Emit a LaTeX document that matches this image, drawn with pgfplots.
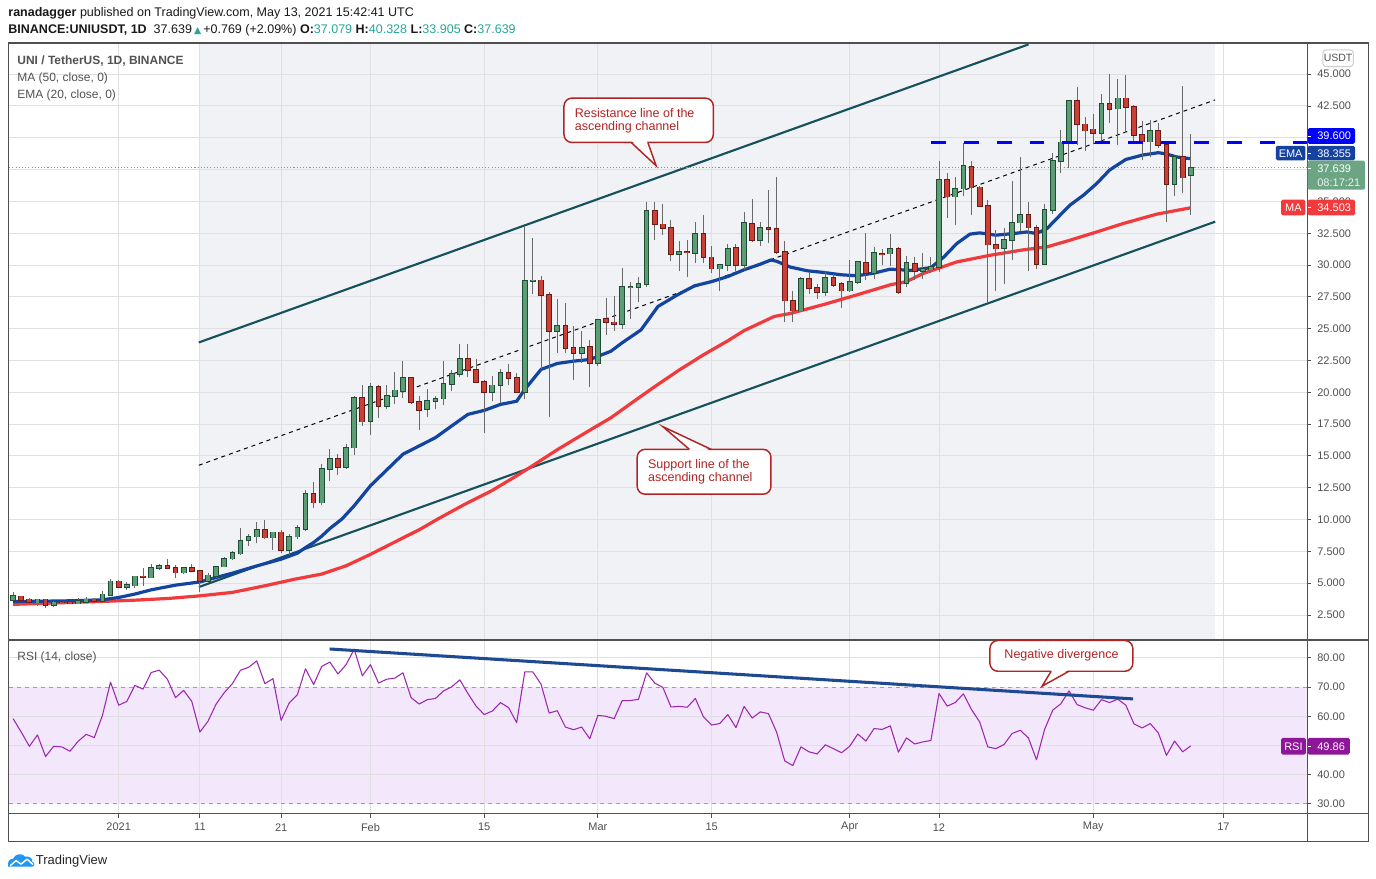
\documentclass[border=0pt]{standalone}
\usepackage{fontspec}
\setmainfont{Liberation Sans}
\newfontfamily\dejavu{DejaVu Sans}
\usepackage{pgfplots}
\usepackage{pgfplotstable}
\pgfplotsset{compat=1.18}

\definecolor{cgreen}{RGB}{92,157,118}
\definecolor{cgreenD}{RGB}{30,76,52}
\definecolor{cred}{RGB}{203,64,52}
\definecolor{credD}{RGB}{105,26,22}
\definecolor{wickc}{RGB}{105,105,105}
\definecolor{emac}{RGB}{18,68,160}
\definecolor{mac}{RGB}{242,57,60}
\definecolor{chan}{RGB}{22,82,92}
\definecolor{shadec}{RGB}{240,242,245}
\definecolor{gridc}{RGB}{224,224,227}
\definecolor{txt}{RGB}{80,80,80}
\definecolor{callc}{RGB}{178,36,36}
\definecolor{rsic}{RGB}{156,39,176}
\definecolor{bandc}{RGB}{243,231,252}
\definecolor{rsibox}{RGB}{142,22,153}
\definecolor{tealc}{RGB}{38,166,154}
\definecolor{divc}{RGB}{30,74,145}
\definecolor{pgreen}{RGB}{107,165,131}
\definecolor{blueb}{RGB}{0,0,255}
\definecolor{emabox}{RGB}{21,66,160}
\definecolor{framec}{RGB}{80,80,80}
\definecolor{tvblue}{RGB}{33,150,243}
\definecolor{bandline}{RGB}{165,155,175}
\definecolor{boxgray}{RGB}{205,205,205}

\newcommand\fs[1]{\fontsize{#1}{#1}\selectfont}

% day index: 0 = 1 Jan 2021
\pgfplotstableread{
d o h l c
-13 3.70 4.28 3.62 3.99
-12 3.96 4.02 3.65 3.70
-11 3.73 3.85 3.40 3.49
-10 3.47 3.80 3.23 3.73
-9 3.73 3.78 3.02 3.31
-8 3.31 3.58 3.17 3.49
-7 3.50 3.56 3.40 3.47
-6 3.49 3.52 3.36 3.39
-5 3.39 3.85 3.33 3.60
-4 3.54 3.95 3.48 3.73
-3 3.73 3.82 3.58 3.62
-2 3.62 4.38 3.55 4.12
-1 4.09 5.31 3.98 5.14
0 5.14 5.27 4.65 4.72
1 4.72 5.10 4.50 4.85
2 4.82 5.60 4.66 5.53
3 5.53 6.18 4.80 5.50
4 5.45 6.55 5.40 6.23
5 6.21 6.55 6.05 6.39
6 6.39 6.89 6.10 6.21
7 6.23 6.40 5.45 5.84
8 5.84 6.25 5.70 6.23
9 6.23 6.55 5.85 5.97
10 6.00 6.05 4.33 5.19
11 5.19 5.83 5.00 5.61
12 5.58 6.35 5.40 6.31
13 6.31 7.10 6.25 6.94
14 6.94 7.52 6.80 7.36
15 7.33 9.37 7.20 8.35
16 8.40 8.85 7.95 8.66
17 8.66 9.84 8.15 9.21
18 9.21 9.95 8.45 8.58
19 8.58 9.05 7.60 9.00
20 9.00 9.20 7.40 7.59
21 7.59 8.90 7.20 8.66
22 8.66 9.55 8.50 9.37
23 9.24 12.29 9.10 12.03
24 12.03 12.94 10.90 11.33
25 11.33 14.35 11.17 13.96
26 13.96 15.53 13.00 14.75
27 14.75 15.19 13.54 14.10
28 14.10 15.92 13.95 15.66
29 15.66 19.70 15.08 19.58
30 19.58 20.60 17.36 17.70
31 17.75 20.75 16.65 20.44
32 20.44 20.60 17.96 18.92
33 18.92 20.60 18.66 19.70
34 19.70 21.60 19.05 20.15
35 20.10 22.50 19.58 21.14
36 21.14 21.20 19.10 19.24
37 19.26 19.70 17.04 18.60
38 18.70 20.23 18.06 19.34
39 19.30 19.75 18.66 19.50
40 19.50 22.50 19.00 20.67
41 20.67 21.74 20.10 21.46
42 21.46 23.83 21.20 22.63
43 22.63 23.83 21.20 21.74
44 21.77 22.63 20.70 20.80
45 20.80 21.00 16.83 20.00
46 20.00 21.25 19.30 20.54
47 20.54 21.83 19.20 21.53
48 21.53 22.20 20.60 21.10
49 21.14 21.53 19.95 20.00
50 20.00 33.00 19.50 28.77
51 28.75 32.10 27.75 28.80
52 28.80 29.15 21.80 27.62
53 27.64 27.85 18.06 24.82
54 24.82 27.36 23.10 25.20
55 25.20 27.00 23.10 23.50
56 23.50 25.24 20.96 23.10
57 23.10 24.85 22.30 23.50
58 23.57 24.10 20.44 22.27
59 22.27 25.75 22.10 25.71
60 25.75 27.40 24.50 25.50
61 25.50 27.60 24.80 25.36
62 25.36 29.76 25.00 28.27
63 28.25 28.70 25.80 28.30
64 28.27 29.05 27.10 28.50
65 28.50 34.92 28.30 34.24
66 34.24 34.92 32.00 33.20
67 33.20 34.80 32.40 32.90
68 32.90 33.56 30.30 30.86
69 30.86 31.86 29.50 31.05
70 31.05 31.95 29.10 31.00
71 30.95 33.40 30.15 32.43
72 32.43 33.95 30.20 30.60
73 30.60 31.50 29.40 29.73
74 29.73 30.05 28.00 30.00
75 30.00 31.67 29.50 31.25
76 31.33 31.67 29.50 30.00
77 30.00 34.16 29.60 33.30
78 33.22 35.20 31.80 31.99
79 31.99 33.35 31.50 32.90
80 32.90 35.90 31.70 32.82
81 32.82 36.90 30.90 30.99
82 31.04 31.90 25.50 27.20
83 27.20 28.00 25.50 26.43
84 26.43 29.05 26.40 28.92
85 28.92 29.45 27.74 28.19
86 28.19 28.50 27.30 27.87
87 27.87 29.50 27.60 28.97
88 28.97 29.30 28.30 28.45
89 28.50 28.65 26.60 28.00
90 28.00 30.40 27.90 28.66
91 28.66 30.35 28.55 30.26
92 30.15 32.50 28.84 29.34
93 29.34 31.40 28.90 30.94
94 30.90 31.30 30.00 30.85
95 30.90 32.46 29.95 31.25
96 31.25 31.40 27.74 27.85
97 28.58 30.70 28.30 30.20
98 30.12 30.64 28.80 29.50
99 29.50 30.96 28.90 29.72
100 29.64 30.64 29.40 29.85
101 29.85 38.18 29.46 36.68
102 36.68 37.20 33.70 35.37
103 35.37 36.94 33.13 36.00
104 36.00 39.60 35.40 37.78
105 37.70 38.20 33.92 36.08
106 36.10 36.20 34.60 34.63
107 34.68 35.10 27.10 31.61
108 31.61 32.74 28.00 31.30
109 31.35 32.95 28.50 31.95
110 31.95 36.60 30.40 33.34
111 33.34 38.50 32.70 33.92
112 33.92 34.97 29.50 32.95
113 32.95 33.15 29.70 30.10
114 30.10 34.83 30.05 34.32
115 34.32 38.80 34.05 38.18
116 38.18 40.60 37.25 39.64
117 39.64 42.98 37.60 42.90
118 42.90 44.03 39.40 41.06
119 41.06 41.60 39.00 40.56
120 40.67 41.90 39.50 40.35
121 40.35 43.43 39.55 42.66
122 42.66 45.00 41.20 42.24
123 42.30 44.60 39.40 43.10
124 43.10 44.95 40.35 42.40
125 42.40 42.60 39.55 40.22
126 40.22 41.35 38.25 39.70
127 39.70 41.40 38.50 40.54
128 40.54 41.20 39.20 39.43
129 39.43 39.60 33.40 36.34
130 36.34 38.60 35.40 38.52
131 38.52 44.08 35.68 36.87
132 37.079 40.328 33.905 37.639
}\candles

\begin{document}
\begin{tikzpicture}
% pixel frame: (X,Y) px  ->  x=0.75X-5.25 pt, y=-0.75Y+32.625 pt
\begin{scope}[x=0.75pt,y=-0.75pt,xshift=-5.25pt,yshift=32.625pt]
  \path[use as bounding box] (0,0) rectangle (1376,880);
  \fill[white] (0,0) rectangle (1376,880);
  \fill[shadec] (197,43.5) rectangle (1215,641);
  \fill[bandc] (7,688.2) rectangle (1307,805);
\end{scope}

% ---------------- price pane ----------------
\begin{axis}[
  at={(0pt,0pt)}, anchor=north west, scale only axis,
  width=975pt, height=448.125pt,
  xmin=-13.485, xmax=146.32, ymin=0.539, ymax=47.416,
  axis line style={draw=none},
  xtick={0,10,20,31,45,59,73,90,101,120,136},
  ytick={2.5,5,7.5,10,12.5,15,17.5,20,22.5,25,27.5,30,32.5,35,37.5,40,42.5,45},
  xticklabels={}, yticklabels={},
  major tick length=0pt,
  grid=major, grid style={draw=gridc, line width=0.75pt},
  candle/.style={draw=none, mark=none, forget plot,
    error bars/y dir=plus, error bars/y explicit, error bars/error mark=none},
]
  % ascending channel
  \draw[chan, line width=1.6pt] (axis cs:9.87,23.92) -- (axis cs:112.02,47.34);
  \draw[chan, line width=1.6pt] (axis cs:9.87,4.70) -- (axis cs:135.0,33.41);
  \draw[black, line width=0.75pt, dash pattern=on 3pt off 3pt] (axis cs:9.87,14.27) -- (axis cs:135.0,42.98);
  % current price line
  \draw[pgreen, line width=0.8pt, dash pattern=on 0.8pt off 1.6pt] (axis cs:-13.485,37.639) -- (axis cs:146.32,37.639);
  % MA 50
  \addplot[mac, line width=2.4pt, line join=round] coordinates {
  (-13,3.34) (-2,3.57) (2,3.67) (6,3.80) (10,4.01) (14,4.28) (18,4.80) (21.7,5.32)
  (25,5.72) (28,6.37) (31,7.27) (34,8.24) (37,9.20) (39.3,10.05) (42.6,11.20) (45.9,12.26)
  (49,13.44) (50.8,14.17) (54.1,15.53) (58.2,17.10) (60.6,18.00) (63,19.10) (66,20.45)
  (69,21.75) (72,22.95) (75,24.05) (77,24.85) (80.7,25.96) (82.7,26.20) (86.8,26.90)
  (90.9,27.66) (95,28.45) (97,28.70) (99,29.33) (103.2,30.25) (107.3,30.77) (111.4,31.20)
  (114.3,31.43) (117.1,31.95) (120.4,32.60) (123.7,33.27) (127.8,34.00) (132,34.503)};
  % EMA 20
  \addplot[emac, line width=2.4pt, line join=round] coordinates {
  (-13,3.57) (-10,3.58) (-6,3.62) (-2,3.70) (0,3.88) (2,4.15) (4,4.48) (7,4.85) (10,5.10)
  (12,5.45) (14,5.79) (17,6.36) (20,6.89) (22,7.36) (23,7.80) (24,8.20) (25,8.70) (26,9.30)
  (27.5,10.05) (29,11.09) (31,12.66) (33,13.90) (35,15.14) (37,15.79) (39,16.44) (41,17.36)
  (43,18.27) (45,18.58) (47,19.05) (49,19.30) (50,20.23) (52,21.80) (54,22.27) (56,22.45)
  (58,22.58) (60.6,23.23) (62,23.90) (64.3,24.90) (66.4,26.75) (68.8,27.66) (70.9,28.37)
  (73,28.70) (75,29.10) (77,29.63) (79,30.07) (80.3,30.40) (81,30.30) (82.7,29.84)
  (84.8,29.55) (86.8,29.42) (88.9,29.24) (90.9,29.16) (93,29.37) (95,29.68) (97.5,29.58)
  (100,29.80) (101.6,30.64) (103.2,31.70) (104.8,32.43) (106,32.53) (108,32.35) (110.2,32.48)
  (111.8,32.60) (113,32.48) (114.3,32.87) (115.5,33.66) (117.1,34.70) (118.8,35.50)
  (120.4,36.40) (122,37.47) (124,38.30) (126.1,38.65) (128,38.83) (129,38.73) (130.2,38.50)
  (132,38.355)};
  % candle wicks
  \addplot[candle, error bars/error bar style={draw=wickc, line width=0.75pt}]
    table[x=d, y=l, y error expr=\thisrow{h}-\thisrow{l}] {\candles};
  % green bodies
  \addplot[candle, restrict expr to domain={\thisrow{c}-\thisrow{o}}{0:100},
    error bars/error bar style={draw=cgreenD, line width=4.3pt}]
    table[x=d, y expr={min(\thisrow{o},\thisrow{c})-0.06}, y error expr={abs(\thisrow{c}-\thisrow{o})+0.12}] {\candles};
  \addplot[candle, restrict expr to domain={\thisrow{c}-\thisrow{o}}{0:100},
    error bars/error bar style={draw=cgreen, line width=2.8pt}]
    table[x=d, y expr={min(\thisrow{o},\thisrow{c})}, y error expr={abs(\thisrow{c}-\thisrow{o})}] {\candles};
  % red bodies
  \addplot[candle, restrict expr to domain={\thisrow{c}-\thisrow{o}}{-100:-0.00001},
    error bars/error bar style={draw=credD, line width=4.3pt}]
    table[x=d, y expr={min(\thisrow{o},\thisrow{c})-0.06}, y error expr={abs(\thisrow{c}-\thisrow{o})+0.12}] {\candles};
  \addplot[candle, restrict expr to domain={\thisrow{c}-\thisrow{o}}{-100:-0.00001},
    error bars/error bar style={draw=cred, line width=2.8pt}]
    table[x=d, y expr={min(\thisrow{o},\thisrow{c})}, y error expr={abs(\thisrow{c}-\thisrow{o})}] {\candles};
  % horizontal resistance level
  \draw[blueb, line width=2.3pt, dash pattern=on 11.25pt off 13.5pt] (axis cs:99.97,39.6) -- (axis cs:146.32,39.6);
\end{axis}

% ---------------- RSI pane ----------------
\begin{axis}[
  at={(0pt,-448.125pt)}, anchor=north west, scale only axis,
  width=975pt, height=130.5pt,
  xmin=-13.485, xmax=146.32, ymin=26.58, ymax=86.16,
  axis line style={draw=none},
  xtick={0,10,20,31,45,59,73,90,101,120,136},
  ytick={40,50,60,80},
  xticklabels={}, yticklabels={},
  major tick length=0pt,
  grid=major, grid style={draw=gridc, line width=0.75pt},
]
  \draw[bandline, line width=0.75pt, dash pattern=on 3pt off 3pt] (axis cs:-13.485,70) -- (axis cs:146.32,70);
  \draw[bandline, line width=0.75pt, dash pattern=on 3pt off 3pt] (axis cs:-13.485,30) -- (axis cs:146.32,30);
  \addplot[rsic, line width=0.8pt, line join=round] coordinates {
  (-13,59.2) (-12,54.6) (-11,49.7) (-10,53.6) (-9,46.2) (-8,49.7) (-7,49.5) (-6,48.0)
  (-5,51.4) (-4,53.8) (-3,52.7) (-2,60.3) (-1,71.7) (0,63.8) (1,65.1) (2,70.6) (3,69.3)
  (4,75.0) (5,75.8) (6,72.7) (7,66.4) (8,68.9) (9,65.1) (10,54.6) (11,58.3) (12,64.2)
  (13,68.1) (14,71.2) (15,75.8) (16,76.8) (17,79.0) (18,71.2) (19,72.9) (20,58.6)
  (21,64.6) (22,67.4) (23,76.3) (24,70.9) (25,77.1) (26,78.6) (27,74.5) (28,77.7)
  (29,83.0) (30,73.9) (31,77.7) (32,71.4) (33,72.7) (34,73.1) (35,74.9) (36,66.4)
  (37,64.2) (38,65.7) (39,66.1) (40,68.7) (41,70.1) (42,72.5) (43,67.8) (44,63.5)
  (45,60.6) (46,61.8) (47,64.7) (48,63.0) (49,57.8) (50,75.2) (51,75.2) (52,71.0)
  (53,61.1) (54,61.9) (55,56.3) (56,55.4) (57,56.3) (58,52.3) (59,60.3) (60,60.0)
  (61,59.2) (62,65.4) (63,65.4) (64,65.8) (65,74.9) (66,71.4) (67,69.9) (68,63.2)
  (69,63.4) (70,63.1) (71,66.1) (72,59.8) (73,57.0) (74,57.5) (75,60.6) (76,56.1)
  (77,63.4) (78,59.4) (79,61.5) (80,60.9) (81,54.6) (82,44.7) (83,43.1) (84,49.5)
  (85,47.8) (86,47.1) (87,50.2) (88,48.9) (89,47.5) (90,49.7) (91,53.9) (92,51.5)
  (93,55.8) (94,55.5) (95,56.7) (96,47.7) (97,52.6) (98,50.5) (99,51.2) (100,51.7)
  (101,67.8) (102,63.5) (103,64.7) (104,67.7) (105,62.3) (106,58.1) (107,49.5) (108,48.9)
  (109,50.3) (110,54.1) (111,55.2) (112,52.6) (113,45.1) (114,55.5) (115,62.1) (116,64.3)
  (117,68.7) (118,64.0) (119,62.9) (120,62.1) (121,65.7) (122,64.7) (123,65.9) (124,63.8)
  (125,57.4) (126,56.0) (127,57.5) (128,54.3) (129,46.6) (130,51.5) (131,47.8) (132,49.86)};
  \draw[divc, line width=2.3pt] (axis cs:25.98,83.08) -- (axis cs:124.9,65.96);
\end{axis}

% ---------------- overlays in pixel frame ----------------
\begin{scope}[x=0.75pt,y=-0.75pt,xshift=-5.25pt,yshift=32.625pt]
  % frame
  \draw[framec, line width=0.9pt] (6.5,43) rectangle (1368.5,843);
  \draw[framec, line width=0.9pt] (6.5,641) -- (1368.5,641);
  \draw[framec, line width=0.9pt] (6.5,815) -- (1368.5,815);
  \draw[framec, line width=0.9pt] (1307,43) -- (1307,843);
  % price tick labels
  \foreach \yy/\t in {74.3/45.000,106.2/42.500,138.0/40.000,169.9/37.500,201.7/35.000,233.6/32.500,
     265.5/30.000,297.4/27.500,329.2/25.000,361.1/22.500,393.0/20.000,424.8/17.500,456.7/15.000,
     488.5/12.500,520.4/10.000,552.3/7.500,584.1/5.000,616.0/2.500}{
    \draw[framec, line width=0.75pt] (1307,\yy) -- (1311,\yy);
    \node[anchor=west, inner sep=0, text=txt] at (1317,\yy) {\fs{8.25pt}\t};
  }
  % RSI tick labels
  \foreach \yy/\t in {659/80.00,688.2/70.00,717.4/60.00,746.6/50.00,775.8/40.00,805/30.00}{
    \draw[framec, line width=0.75pt] (1307,\yy) -- (1311,\yy);
    \node[anchor=west, inner sep=0, text=txt] at (1317,\yy) {\fs{8.25pt}\t};
  }
  % date labels
  \foreach \xx/\t in {116.7/2021,198.1/11,279.4/21,368.9/Feb,482.8/15,596.7/Mar,710.6/15,
     848.9/Apr,938.3/12,1092.9/May,1223.1/17}{
    \draw[framec, line width=0.75pt] (\xx,815) -- (\xx,819);
    \node[anchor=center, inner sep=0, text=txt] at (\xx,828.5) {\fs{8.25pt}\t};
  }
  % USDT box
  \draw[boxgray, fill=white, rounded corners=2.5pt, line width=0.75pt] (1322.7,50) rectangle (1353.3,66.7);
  \node[text=txt, inner sep=0] at (1338,58.4) {\fs{7.9pt}USDT};
  % value boxes
  \fill[blueb, rounded corners=1.2pt] (1307.5,128.3) rectangle (1355,144);
  \node[anchor=west, text=white, inner sep=0] at (1317,136.3) {\fs{8.25pt}39.600};
  \fill[emabox, rounded corners=1.2pt] (1275.7,146) rectangle (1305.3,160.7);
  \node[text=white, inner sep=0] at (1290.5,153.5) {\fs{8.25pt}EMA};
  \fill[emabox, rounded corners=1.2pt] (1307.5,146) rectangle (1355,160.7);
  \node[anchor=west, text=white, inner sep=0] at (1317,153.5) {\fs{8.25pt}38.355};
  \fill[pgreen, rounded corners=1.2pt] (1307.5,160.9) rectangle (1365,190);
  \node[anchor=west, text=white, inner sep=0] at (1317,168.6) {\fs{8.25pt}37.639};
  \node[anchor=west, text=white!88!pgreen, inner sep=0] at (1317,183) {\fs{8.25pt}08:17:21};
  \fill[mac, rounded corners=1.2pt] (1281,200) rectangle (1305.3,215.7);
  \node[text=white, inner sep=0] at (1293.2,208) {\fs{8.25pt}MA};
  \fill[mac, rounded corners=1.2pt] (1307.5,200) rectangle (1355,215.7);
  \node[anchor=west, text=white, inner sep=0] at (1317,208) {\fs{8.25pt}34.503};
  \fill[rsibox, rounded corners=1.2pt] (1281,739) rectangle (1305.7,755.7);
  \node[text=white, inner sep=0] at (1293.3,747.4) {\fs{8.25pt}RSI};
  \fill[rsibox, rounded corners=1.2pt] (1307.5,739) rectangle (1349.7,755.7);
  \node[anchor=west, text=white, inner sep=0] at (1317,747.4) {\fs{8.25pt}49.86};
  \foreach \yy in {136.3,153.5,168.6,208,747.4}{\draw[white, line width=0.75pt] (1307.5,\yy) -- (1311,\yy);}

  % callout: resistance
  \draw[callc, fill=white, line width=1.1pt, rounded corners=6pt] (562.7,98.3) rectangle (712.3,142.7);
  \fill[white] (630.8,141.4) -- (645.9,141.4) -- (655,166) -- cycle;
  \draw[callc, line width=1.1pt, line join=miter] (630,142.7) -- (655,166) -- (646.7,142.7);
  \node[anchor=base west, inner sep=0, text=callc] at (573.3,118) {\fs{9.4pt}Resistance line of the};
  \node[anchor=base west, inner sep=0, text=callc] at (573.3,130.3) {\fs{9.4pt}ascending channel};
  % callout: support
  \draw[callc, fill=white, line width=1.1pt, rounded corners=6pt] (636,450) rectangle (770,495);
  \fill[white] (689.3,451.3) -- (709,451.3) -- (661.7,427.3) -- cycle;
  \draw[callc, line width=1.1pt, line join=miter] (688.3,450) -- (661.7,427.3) -- (710,450);
  \node[anchor=base west, inner sep=0, text=callc] at (646.7,469.5) {\fs{9.4pt}Support line of the};
  \node[anchor=base west, inner sep=0, text=callc] at (646.7,482) {\fs{9.4pt}ascending channel};
  % callout: negative divergence
  \draw[callc, fill=white, line width=1.1pt, rounded corners=6pt] (989.3,641.5) rectangle (1132.4,672.3);
  \fill[white] (1051.2,671) -- (1067.8,671) -- (1041.5,687.3) -- cycle;
  \draw[callc, line width=1.1pt, line join=miter] (1050.6,672.3) -- (1041.5,687.3) -- (1068.4,672.3);
  \node[inner sep=0, text=callc] at (1061,655.8) {\fs{9.4pt}Negative divergence};

  % header
  \node[anchor=base west, inner sep=0, text=black!90] at (6,17) {\fs{9.4pt}\textbf{ranadagger} published on TradingView.com, May 13, 2021 15:42:41 UTC};
  \node[anchor=base west, inner sep=0, text=black!90] at (6,33.3) {\fs{9.4pt}\textbf{BINANCE:UNIUSDT, 1D}\ \ 37.639\,{\dejavu\fs{7pt}\textcolor{tealc}{▲}}\,+0.769 (+2.09\%) \textbf{O:}\textcolor{tealc}{37.079} \textbf{H:}\textcolor{tealc}{40.328} \textbf{L:}\textcolor{tealc}{33.905} \textbf{C:}\textcolor{tealc}{37.639}};
  % legend
  \node[anchor=base west, inner sep=0, text=black!68] at (15,64.5) {\fs{9pt}\textbf{UNI / TetherUS, 1D, BINANCE}};
  \node[anchor=base west, inner sep=0, text=black!68] at (15,81.7) {\fs{9pt}MA (50, close, 0)};
  \node[anchor=base west, inner sep=0, text=black!68] at (15,98.8) {\fs{9pt}EMA (20, close, 0)};
  \node[anchor=base west, inner sep=0, text=black!68] at (15,661.5) {\fs{9pt}RSI (14, close)};

  % TradingView logo
  \fill[tvblue] (6,868) .. controls (5,864) and (7,860) .. (11,860) .. controls (13,855) and (20,854) .. (23,858)
     .. controls (27,857) and (31,860) .. (30,863) .. controls (33,864) and (33,868) .. (30,868) -- cycle;
  \draw[white, line width=1.1pt, line join=round] (8,867) -- (14,862) -- (19,865.5) -- (25,860.5) -- (31,866);
  \node[anchor=base west, inner sep=0, text=black!85] at (33.5,866) {\fs{9.75pt}TradingView};
\end{scope}
\end{tikzpicture}
\end{document}
